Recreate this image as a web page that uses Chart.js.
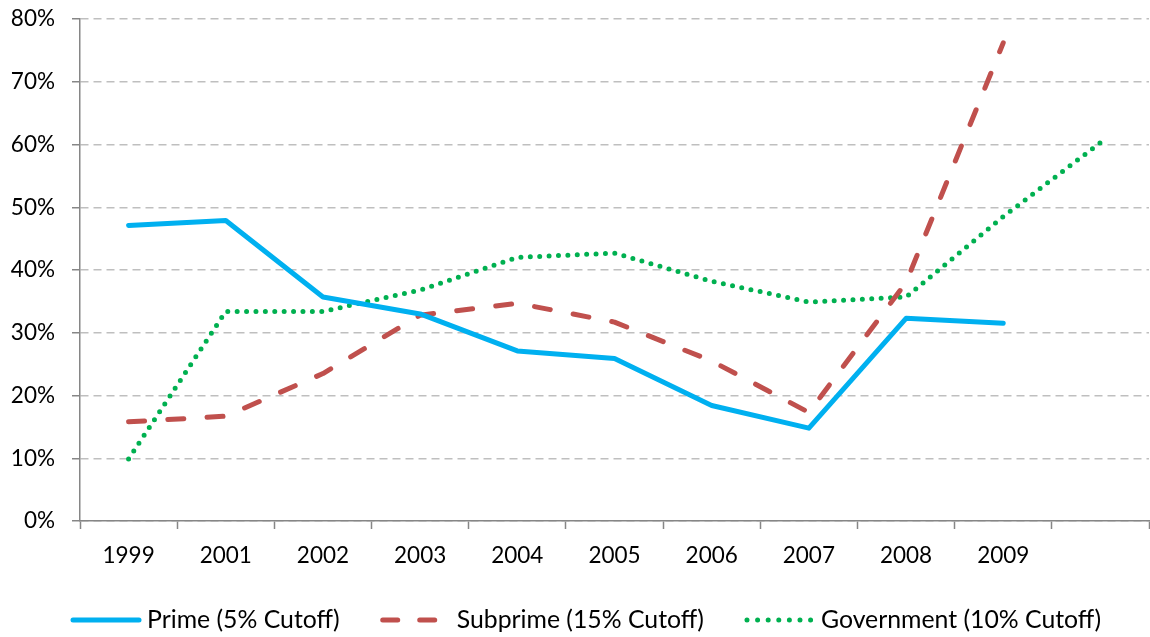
<!DOCTYPE html>
<html>
<head>
<meta charset="utf-8">
<script src="https://cdn.jsdelivr.net/npm/chart.js@4.4.1/dist/chart.umd.min.js"></script>
<style>
    html, body { margin: 0; padding: 0; background: #fff; }
    #wrap { width: 1150px; height: 637px; position: relative; }
</style>
</head>
<body>
<div id="wrap"><canvas id="chart"></canvas></div>
<script>
// --- DATA (percent) ---
const years = ['1999', '2001', '2002', '2003', '2004', '2005', '2006', '2007', '2008', '2009', ''];
const prime = [47.1, 47.9, 35.7, 33.0, 27.1, 25.9, 18.4, 14.8, 32.3, 31.5, null];
const subprime = [15.8, 16.7, 23.5, 32.8, 34.7, 31.7, 25.5, 17.3, 38.0, 76.2, null];
const government = [9.9, 33.4, 33.4, 36.8, 42.0, 42.7, 38.2, 34.9, 35.7, 48.5, 60.3];
const yTicks = [0, 10, 20, 30, 40, 50, 60, 70, 80];

const FONT = 'Lato, "Open Sans", sans-serif';
Chart.defaults.font.family = FONT;
Chart.defaults.color = '#000';

// --- LEGEND (drawn by hand so sample lines keep their dash style) ---
const bottomLegend = {
    id: 'bottomLegend',
    afterDraw(chart) {
        const c = chart.ctx;
        const y = 620;
        const sampleW = 66;
        const gapText = 8;
        const gapItem = 43;
        c.save();
        c.font = '24.8px ' + FONT;
        c.textBaseline = 'middle';
        c.fillStyle = '#000';
        let x = 73;
        chart.data.datasets.forEach(ds => {
            c.beginPath();
            c.strokeStyle = ds.borderColor;
            c.lineWidth = ds.borderWidth;
            c.lineCap = ds.borderCapStyle || 'butt';
            c.setLineDash(ds.legendDash || ds.borderDash || []);
            c.moveTo(x, y);
            c.lineTo(x + sampleW, y);
            c.stroke();
            c.setLineDash([]);
            x += sampleW + gapText;
            c.fillText(ds.label, x, y);
            x += c.measureText(ds.label).width + gapItem;
        });
        c.restore();
    }
};

const ctx = document.getElementById('chart');
new Chart(ctx, {
    type: 'line',
    data: {
        labels: years,
        datasets: [{
            label: 'Prime (5% Cutoff)',
            data: prime,
            borderColor: '#00B0F0',
            borderWidth: 5,
            borderCapStyle: 'round',
            borderJoinStyle: 'round',
            pointRadius: 0,
            tension: 0
        }, {
            label: 'Subprime (15% Cutoff)',
            data: subprime,
            borderColor: '#C0504D',
            borderWidth: 5,
            borderDash: [16, 23.3],
            legendDash: [15, 22],
            borderCapStyle: 'round',
            borderJoinStyle: 'round',
            pointRadius: 0,
            tension: 0
        }, {
            label: 'Government (10% Cutoff)',
            data: government,
            borderColor: '#00B050',
            borderWidth: 5,
            borderDash: [0, 9.4],
            legendDash: [0, 10.6],
            borderCapStyle: 'round',
            borderJoinStyle: 'round',
            pointRadius: 0,
            tension: 0
        }]
    },
    options: {
        responsive: true,
        maintainAspectRatio: false,
        animation: false,
        layout: {
            padding: { top: 0, right: 1, bottom: 68, left: 0 }
        },
        scales: {
            x: {
                offset: true,
                afterFit: (scale) => { scale.height = 48; },
                grid: {
                    offset: true,
                    drawOnChartArea: false,
                    drawTicks: true,
                    tickLength: 8,
                    tickColor: '#868686',
                    tickWidth: 1.5
                },
                border: { color: '#868686', width: 1.5 },
                ticks: {
                    font: { size: 22.5 },
                    padding: 13,
                    maxRotation: 0,
                    autoSkip: false
                }
            },
            y: {
                min: 0,
                max: 80,
                afterFit: (scale) => {
                    scale.width = 80;
                    scale.paddingTop = 19;
                    scale.paddingBottom = 0;
                },
                afterBuildTicks: (scale) => {
                    scale.ticks = yTicks.map(v => ({ value: v }));
                },
                grid: {
                    color: '#BFBFBF',
                    lineWidth: 1.5,
                    drawTicks: true,
                    tickLength: 8,
                    tickColor: '#868686',
                    tickWidth: 1.5,
                    tickBorderDash: []
                },
                border: { color: '#868686', width: 1.5, dash: [8, 5] },
                ticks: {
                    font: { size: 22.5 },
                    padding: 17,
                    callback: (v) => v + '%'
                }
            }
        },
        plugins: {
            legend: { display: false },
            tooltip: { enabled: false }
        }
    },
    plugins: [bottomLegend]
});
</script>
</body>
</html>
